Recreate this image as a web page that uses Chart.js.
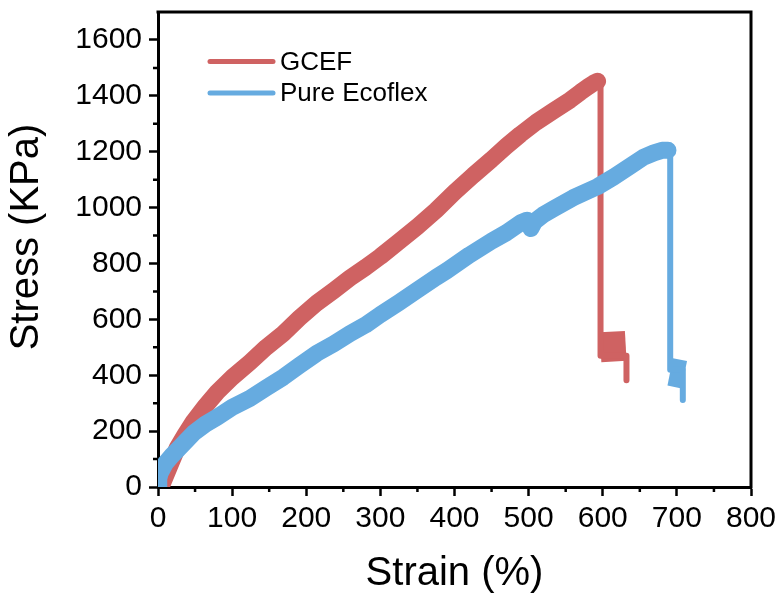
<!DOCTYPE html>
<html>
<head>
<meta charset="utf-8">
<script src="https://cdn.jsdelivr.net/npm/chart.js@4.4.1/dist/chart.umd.min.js"></script>
<style>
  html, body { margin: 0; padding: 0; background: #fff; }
  canvas { display: block; }
</style>
</head>
<body>
<canvas id="grafico" width="782" height="596"></canvas>
<script>
// valores (strain %, stress KPa)
const gcefStrain = [4, 8, 15, 26, 36, 48, 64, 80, 100, 124, 146, 169, 191, 214, 237, 259, 280, 300, 325, 350, 375, 400, 425, 450, 470, 489, 510, 534, 556, 570, 580, 588, 593];
const gcefStress = [0, 25, 70, 140, 185, 235, 290, 340, 392, 446, 500, 549, 605, 658, 703, 748, 786, 825, 878, 932, 990, 1055, 1115, 1172, 1220, 1262, 1305, 1347, 1385, 1413, 1432, 1446, 1452];
// ruptura do GCEF: queda, patamar e fim
const gcefBreakStrain = [594, 597, 597, 632, 632];
const gcefBreakStress = [1452, 1440, 470, 470, 382];
const gcefPlateauStrain = [597, 631];
const gcefPlateauStress = [500, 505];

const ecoStrain = [0, 1, 3, 10, 18, 26, 36, 48, 64, 80, 100, 124, 146, 169, 191, 214, 237, 259, 280, 300, 325, 350, 375, 390, 420, 450, 470, 489, 498, 503, 508, 520, 534, 560, 593, 615, 638, 655, 669, 680, 688];
const ecoStress = [0, 30, 50, 85, 110, 132, 160, 193, 225, 250, 285, 317, 355, 393, 435, 478, 512, 549, 580, 617, 660, 705, 750, 775, 830, 880, 910, 945, 955, 925, 950, 975, 996, 1035, 1075, 1110, 1150, 1180, 1196, 1205, 1205];
const ecoBreakStrain = [688, 691, 691, 708, 708];
const ecoBreakStress = [1205, 1200, 420, 420, 311];
const ecoPlateauStrain = [691, 710];
const ecoPlateauStress = [412, 402];

const xTicks = [0, 100, 200, 300, 400, 500, 600, 700, 800];
const yTicks = [0, 200, 400, 600, 800, 1000, 1200, 1400, 1600];
const xMinor = [50, 150, 250, 350, 450, 550, 650, 750];
const yMinor = [100, 300, 500, 700, 900, 1100, 1300, 1500];

const legendNames = ['GCEF', 'Pure Ecoflex'];
const yTitle = 'Stress (KPa)';
const RED = '#CF6262';
const BLUE = '#66ABE0';
const FONT = '"Liberation Sans", Arial, sans-serif';

function pares(xs, ys) {
    return xs.map((x, i) => ({ x: x, y: ys[i] }));
}

function serie(xs, ys, cor, largura, ordem, cap) {
    return {
        data: pares(xs, ys),
        borderColor: cor,
        backgroundColor: cor,
        borderWidth: largura,
        borderCapStyle: cap || 'round',
        borderJoinStyle: 'round',
        pointRadius: 0,
        tension: 0,
        fill: false,
        order: ordem
    };
}

// moldura, ticks menores, titulo do eixo y e legenda desenhados por cima
const extras = {
    id: 'extras',
    afterDraw(chart) {
        const ctx = chart.ctx;
        const a = chart.chartArea;
        const sx = chart.scales.x, sy = chart.scales.y;
        ctx.save();
        ctx.strokeStyle = '#000';
        ctx.lineWidth = 3;
        ctx.beginPath();
        ctx.moveTo(a.left - 1.5, a.top);
        ctx.lineTo(a.right, a.top);
        ctx.lineTo(a.right, a.bottom + 1.5);
        ctx.stroke();

        ctx.lineWidth = 2.5;
        ctx.beginPath();
        xMinor.forEach(v => {
            const px = sx.getPixelForValue(v);
            ctx.moveTo(px, a.bottom);
            ctx.lineTo(px, a.bottom + 5);
        });
        yMinor.forEach(v => {
            const py = sy.getPixelForValue(v);
            ctx.moveTo(a.left, py);
            ctx.lineTo(a.left - 5, py);
        });
        ctx.stroke();

        // titulo do eixo y (um pouco acima do centro, como no original)
        ctx.save();
        ctx.translate(27, 237);
        ctx.rotate(-Math.PI / 2);
        ctx.font = '40px ' + FONT;
        ctx.fillStyle = '#000';
        ctx.textAlign = 'center';
        ctx.textBaseline = 'middle';
        ctx.fillText(yTitle, 0, 0);
        ctx.restore();

        // legenda
        const cores = [RED, BLUE];
        const ys = [61.5, 93];
        ctx.lineCap = 'round';
        ctx.lineWidth = 5;
        ctx.font = '26px ' + FONT;
        ctx.textBaseline = 'middle';
        ctx.fillStyle = '#000';
        legendNames.forEach((nome, i) => {
            ctx.strokeStyle = cores[i];
            ctx.beginPath();
            ctx.moveTo(210, ys[i]);
            ctx.lineTo(273, ys[i]);
            ctx.stroke();
            ctx.fillText(nome, 280, ys[i] + 1);
        });
        ctx.restore();
    }
};

const ctx = document.getElementById('grafico').getContext('2d');
new Chart(ctx, {
    type: 'line',
    data: {
        datasets: [
            serie(ecoStrain, ecoStress, BLUE, 17, 1),
            serie(ecoBreakStrain, ecoBreakStress, BLUE, 6, 1),
            serie(ecoPlateauStrain, ecoPlateauStress, BLUE, 28, 1, 'butt'),
            serie(gcefStrain, gcefStress, RED, 17, 2),
            serie(gcefBreakStrain, gcefBreakStress, RED, 6, 2),
            serie(gcefPlateauStrain, gcefPlateauStress, RED, 30, 2, 'butt')
        ]
    },
    options: {
        responsive: false,
        animation: false,
        events: [],
        layout: { padding: { top: 12, right: 31, left: 0, bottom: 0 } },
        plugins: { legend: { display: false }, tooltip: { enabled: false } },
        scales: {
            x: {
                type: 'linear',
                min: 0,
                max: 800,
                afterBuildTicks: s => { s.ticks = xTicks.map(v => ({ value: v })); },
                afterFit: s => { s.height = 109; s.paddingLeft = 0; s.paddingRight = 0; },
                border: { display: true, color: '#000', width: 3 },
                grid: { drawOnChartArea: false, drawTicks: true, tickLength: 9, tickWidth: 2.5, tickColor: '#000' },
                ticks: { color: '#000', font: { family: FONT, size: 30 }, padding: 5, maxRotation: 0, callback: v => String(v) },
                title: { display: true, text: 'Strain (%)', color: '#000', font: { family: FONT, size: 40, lineHeight: 1.1 }, padding: { top: 0, bottom: 0 } }
            },
            y: {
                type: 'linear',
                min: 0,
                max: 1700,
                afterBuildTicks: s => { s.ticks = yTicks.map(v => ({ value: v })); },
                afterFit: s => { s.width = 158; s.paddingTop = 0; s.paddingBottom = 0; },
                border: { display: true, color: '#000', width: 3 },
                grid: { drawOnChartArea: false, drawTicks: true, tickLength: 9, tickWidth: 2.5, tickColor: '#000' },
                ticks: { color: '#000', font: { family: FONT, size: 30 }, padding: 7, callback: v => String(v) },
                title: { display: false }
            }
        }
    },
    plugins: [extras]
});
</script>
</body>
</html>
